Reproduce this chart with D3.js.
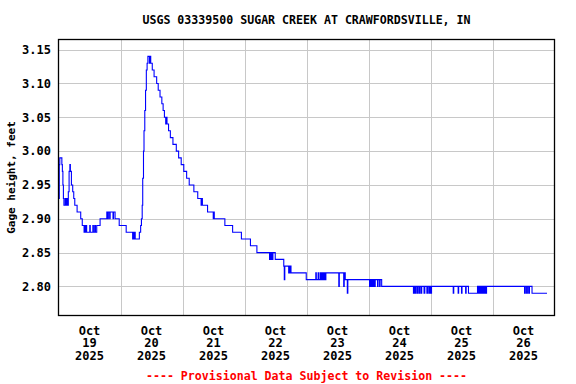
<!DOCTYPE html>
<html>
<head>
<meta charset="utf-8">
<script src="https://cdn.jsdelivr.net/npm/d3@7"></script>
<style>
  html, body { margin: 0; padding: 0; background: #fff; }
  svg { display: block; }
  text { font-family: "DejaVu Sans Mono", "Liberation Mono", monospace; font-weight: bold; }
</style>
</head>
<body>
<svg id="chart" width="576" height="384"></svg>
<script>
// ---- data ----
const chartTitle = "USGS 03339500 SUGAR CREEK AT CRAWFORDSVILLE, IN";
const yAxisTitle = "Gage height, feet";
const footerText = "---- Provisional Data Subject to Revision ----";
const startDay = Date.UTC(2025, 9, 19); // Oct 19 2025 00:00
const dayLabels = ["19", "20", "21", "22", "23", "24", "25", "26"];
const monthLabel = "Oct";
const yearLabel = "2025";
const yTicks = [2.80, 2.85, 2.90, 2.95, 3.00, 3.05, 3.10, 3.15];

// hours since Oct 19 00:00 at which the reading changes
const readingHours = [
  0.0, 0.1, 0.3, 0.5, 1.3, 1.5, 1.7, 1.9, 2.1, 2.6, 2.9, 3.2, 3.6, 3.8, 4.1, 4.4, 4.6, 5.0, 5.5, 5.9,
  6.3, 7.2, 8.6, 9.2, 9.9, 10.1, 10.4, 10.6, 10.9, 12.1, 12.3, 13.3, 13.5, 14.0, 14.3, 14.8, 16.1,
  18.7, 19.1, 19.3, 19.8, 20.0, 21.1, 21.3, 21.9, 23.5, 26.2, 28.7, 28.9, 29.2, 29.5, 29.7, 31.3,
  31.8, 32.1, 32.4, 32.6, 32.9, 33.1, 33.4, 33.7, 34.0, 34.3, 34.6, 35.2, 35.4, 35.7, 36.3, 37.0,
  38.0, 38.6, 39.3, 40.0, 40.5, 41.0, 41.5, 41.8, 42.0, 42.6, 43.3, 44.3, 45.6, 46.5, 47.5, 48.5,
  49.6, 50.6, 52.4, 53.9, 55.2, 55.5, 55.7, 57.7, 59.9, 60.1, 60.3, 64.4, 67.4, 70.8, 74.3, 76.8,
  81.7, 81.9, 82.2, 82.4, 82.8, 83.0, 83.9, 87.2, 87.4, 87.6, 89.1, 89.3, 89.5, 89.7, 90.0, 95.9,
  99.6, 99.8, 100.5, 100.7, 101.3, 101.5, 101.8, 102.0, 102.3, 102.6, 102.9, 103.2, 103.5, 108.5,
  108.7, 110.4, 110.6, 111.0, 111.8, 112.0, 120.4, 120.6, 121.0, 121.3, 121.6, 121.9, 122.3, 122.6,
  123.5, 123.7, 124.3, 124.5, 125.1, 137.4, 137.7, 138.0, 138.3, 138.8, 139.0, 139.5, 139.8, 140.3,
  140.6, 141.5, 141.8, 142.6, 142.9, 143.4, 143.8, 144.1, 144.4, 152.8, 153.0, 154.7, 154.9, 156.0,
  156.2, 157.6, 157.8, 158.7, 162.2, 162.5, 162.9, 163.2, 163.6, 163.9, 164.3, 164.6, 165.0, 165.3,
  165.7, 180.4, 180.7, 181.2, 181.5, 182.0, 182.3, 183.3, 189.1
];
// gage height, feet
const gageHeights = [
  2.98, 2.93, 2.98, 2.99, 2.98, 2.97, 2.95, 2.93, 2.92, 2.93, 2.92, 2.93, 2.92, 2.94, 2.97, 2.98, 2.97, 2.95, 2.94, 2.93,
  2.92, 2.91, 2.90, 2.89, 2.88, 2.89, 2.88, 2.89, 2.88, 2.89, 2.88, 2.89, 2.88, 2.89, 2.88, 2.89, 2.90,
  2.91, 2.90, 2.91, 2.90, 2.91, 2.90, 2.91, 2.90, 2.89, 2.88, 2.87, 2.88, 2.87, 2.88, 2.87, 2.88,
  2.89, 2.90, 2.92, 2.96, 3.00, 3.03, 3.06, 3.09, 3.12, 3.13, 3.14, 3.13, 3.14, 3.13, 3.12, 3.11,
  3.10, 3.09, 3.08, 3.07, 3.06, 3.05, 3.04, 3.05, 3.04, 3.03, 3.02, 3.01, 3.00, 2.99, 2.98, 2.97,
  2.96, 2.95, 2.94, 2.93, 2.92, 2.93, 2.92, 2.91, 2.90, 2.91, 2.90, 2.89, 2.88, 2.87, 2.86, 2.85,
  2.84, 2.85, 2.84, 2.85, 2.84, 2.85, 2.84, 2.83, 2.81, 2.83, 2.82, 2.83, 2.82, 2.83, 2.82, 2.81,
  2.82, 2.81, 2.82, 2.81, 2.82, 2.81, 2.82, 2.81, 2.82, 2.81, 2.82, 2.81, 2.82, 2.80,
  2.82, 2.80, 2.82, 2.81, 2.79, 2.81, 2.80, 2.81, 2.80, 2.81, 2.80, 2.81, 2.80, 2.81,
  2.80, 2.81, 2.80, 2.81, 2.80, 2.79, 2.80, 2.79, 2.80, 2.79, 2.80, 2.79, 2.80, 2.79,
  2.80, 2.79, 2.80, 2.79, 2.80, 2.79, 2.80, 2.79, 2.80, 2.79, 2.80, 2.79, 2.80, 2.79,
  2.80, 2.79, 2.80, 2.79, 2.80, 2.79, 2.80, 2.79, 2.80, 2.79, 2.80, 2.79, 2.80, 2.79,
  2.80, 2.79, 2.80, 2.79, 2.80, 2.79, 2.80, 2.79, 2.79
];

// ---- layout ----
const W = 576, H = 384;
const plot = { left: 58.5, right: 554.5, top: 39.5, bottom: 315.5 };
const HOUR = 3600 * 1000;

const svg = d3.select("#chart");

const x = d3.scaleUtc()
  .domain([new Date(startDay), new Date(startDay + 8 * 24 * HOUR)])
  .range([plot.left, plot.right]);
const y = d3.scaleLinear()
  .domain([2.757, 3.165])
  .range([plot.bottom, plot.top]);

const data = readingHours.map((h, i) => ({ t: new Date(startDay + h * HOUR), v: gageHeights[i] }));

// gridlines
const dayGrid = d3.utcDay.range(new Date(startDay + 24 * HOUR), new Date(startDay + 8 * 24 * HOUR));
svg.append("g").selectAll("line").data(dayGrid).join("line")
  .attr("x1", d => Math.round(x(d)) + 0.5).attr("x2", d => Math.round(x(d)) + 0.5)
  .attr("y1", plot.top).attr("y2", plot.bottom)
  .attr("stroke", "#c8c8c8").attr("stroke-width", 1);
svg.append("g").selectAll("line").data(yTicks).join("line")
  .attr("x1", plot.left).attr("x2", plot.right)
  .attr("y1", d => Math.round(y(d)) + 0.5).attr("y2", d => Math.round(y(d)) + 0.5)
  .attr("stroke", "#c8c8c8").attr("stroke-width", 1);

// clip
svg.append("clipPath").attr("id", "clip").append("rect")
  .attr("x", plot.left).attr("y", plot.top)
  .attr("width", plot.right - plot.left).attr("height", plot.bottom - plot.top);

// data line
const line = d3.line().x(d => x(d.t)).y(d => y(d.v)).curve(d3.curveStepAfter);
svg.append("path").datum(data)
  .attr("clip-path", "url(#clip)")
  .attr("d", line)
  .attr("fill", "none")
  .attr("stroke", "#0000ff")
  .attr("stroke-width", 1.1);

// frame
svg.append("rect")
  .attr("x", plot.left).attr("y", plot.top)
  .attr("width", plot.right - plot.left).attr("height", plot.bottom - plot.top)
  .attr("fill", "none").attr("stroke", "#000").attr("stroke-width", 1.3);

// y tick labels
svg.append("g").selectAll("text").data(yTicks).join("text")
  .attr("x", 51).attr("y", d => y(d) + 4.3)
  .attr("text-anchor", "end")
  .attr("font-size", "12px")
  .attr("fill", "#000")
  .text(d => d.toFixed(2));

// y axis title
svg.append("text")
  .attr("transform", `translate(15,${(plot.top + plot.bottom) / 2}) rotate(-90)`)
  .attr("text-anchor", "middle")
  .attr("font-size", "11px")
  .attr("fill", "#000")
  .text(yAxisTitle);

// x labels at noon of each day
const noonTimes = dayLabels.map((d, i) => new Date(startDay + (i * 24 + 12) * HOUR));
const xl = svg.append("g").selectAll("g").data(noonTimes).join("g")
  .attr("transform", d => `translate(${x(d)},0)`);
xl.append("text").attr("y", 334.5).attr("text-anchor", "middle").attr("font-size", "12px").text(monthLabel);
xl.append("text").attr("y", 347).attr("text-anchor", "middle").attr("font-size", "12px").text((d, i) => dayLabels[i]);
xl.append("text").attr("y", 359.5).attr("text-anchor", "middle").attr("font-size", "12px").text(yearLabel);

// title
svg.append("text")
  .attr("x", (plot.left + plot.right) / 2).attr("y", 24)
  .attr("text-anchor", "middle").attr("font-size", "11.6px").attr("fill", "#000")
  .text(chartTitle);

// footer
svg.append("text")
  .attr("x", (plot.left + plot.right) / 2).attr("y", 379.5)
  .attr("text-anchor", "middle").attr("font-size", "11.6px").attr("fill", "#ff0000")
  .text(footerText);
</script>
</body>
</html>
